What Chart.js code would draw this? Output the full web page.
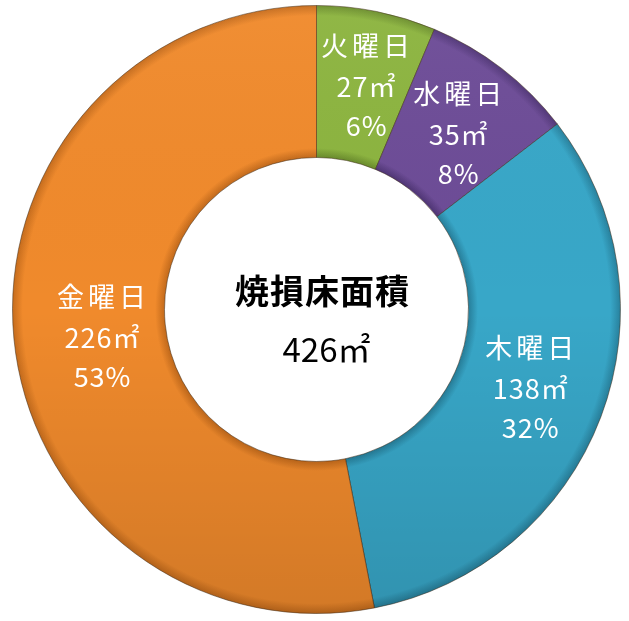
<!DOCTYPE html>
<html>
<head>
<meta charset="utf-8">
<script src="https://cdn.jsdelivr.net/npm/chart.js@4"></script>
<style>
  html, body { margin: 0; padding: 0; background: #fff; }
  #wrap { width: 629px; height: 621px; }
</style>
</head>
<body>
<div id="wrap"><canvas id="donut" width="629" height="621"></canvas></div>
<script>
const days = ["火曜日", "水曜日", "木曜日", "金曜日"];
const areas = [27, 35, 138, 226];
const percents = ["6%", "8%", "32%", "53%"];
const centerTitle = "焼損床面積";
const centerTotal = "426㎡";

// base / edge colors per slice
const baseColors = ["#8cb43f", "#6d4c97", "#38a7c8", "#f08a2c"];
const edgeColors = ["#6a8c2c", "#4f3575", "#277f9b", "#c46b1c"];
// small label nudges (px) so text sits like the original
const labelNudge = [[4, 1], [2, 6], [0, -1], [12, 6]];

const FONT = '"Noto Sans CJK JP", "Noto Sans", sans-serif';

function sliceFill(c) {
  const area = c.chart.chartArea;
  if (!area) return baseColors[c.dataIndex];
  const ctx = c.chart.ctx;
  const cx = (area.left + area.right) / 2;
  const cy = (area.top + area.bottom) / 2;
  const outerR = Math.min(area.right - area.left, area.bottom - area.top) / 2;
  const innerR = outerR * 0.5;
  const g = ctx.createRadialGradient(cx, cy, innerR, cx, cy, outerR);
  g.addColorStop(0, edgeColors[c.dataIndex]);
  g.addColorStop(0.06, baseColors[c.dataIndex]);
  g.addColorStop(0.93, baseColors[c.dataIndex]);
  g.addColorStop(1, edgeColors[c.dataIndex]);
  return g;
}

// slight darkening toward the bottom, like the original's lighting
const shadePlugin = {
  id: "shade",
  afterDatasetsDraw(chart) {
    const ctx = chart.ctx;
    const meta = chart.getDatasetMeta(0);
    const a = meta.data[0];
    ctx.save();
    ctx.beginPath();
    ctx.arc(a.x, a.y, a.outerRadius, 0, Math.PI * 2);
    ctx.arc(a.x, a.y, a.innerRadius, 0, Math.PI * 2, true);
    const g = ctx.createLinearGradient(0, a.y - a.outerRadius, 0, a.y + a.outerRadius);
    g.addColorStop(0, "rgba(255,255,255,0.04)");
    g.addColorStop(0.5, "rgba(0,0,0,0)");
    g.addColorStop(1, "rgba(0,0,0,0.12)");
    ctx.fillStyle = g;
    ctx.fill();
    ctx.restore();
  }
};

// draws slice labels and center text
const labelPlugin = {
  id: "labels",
  afterDatasetsDraw(chart) {
    const ctx = chart.ctx;
    const meta = chart.getDatasetMeta(0);
    ctx.save();
    ctx.textAlign = "center";
    ctx.textBaseline = "middle";
    meta.data.forEach((arc, i) => {
      const mid = (arc.startAngle + arc.endAngle) / 2;
      const r = (arc.innerRadius + arc.outerRadius) / 2;
      const x = arc.x + Math.cos(mid) * r + labelNudge[i][0];
      const y = arc.y + Math.sin(mid) * r + labelNudge[i][1];
      ctx.fillStyle = "#ffffff";
      ctx.font = "27px " + FONT;
      ctx.letterSpacing = "4px";
      ctx.fillText(days[i], x + 2, y - 41);
      ctx.letterSpacing = "1px";
      ctx.fillText(areas[i] + "㎡", x + 1, y);
      ctx.fillText(percents[i], x + 1, y + 39);
    });
    const a = meta.data[0];
    ctx.fillStyle = "#000000";
    ctx.font = "bold 34px " + FONT;
    ctx.letterSpacing = "1px";
    ctx.fillText(centerTitle, a.x + 6, a.y - 18);
    ctx.letterSpacing = "0px";
    ctx.font = "33px " + FONT;
    ctx.fillText(centerTotal, a.x + 10, a.y + 40);
    ctx.restore();
  }
};

new Chart("donut", {
  type: "doughnut",
  data: {
    labels: days,
    datasets: [{
      data: areas,
      backgroundColor: sliceFill,
      borderColor: "rgba(60,40,20,0.5)",
      borderWidth: 1
    }]
  },
  options: {
    responsive: false,
    animation: false,
    cutout: "50%",
    layout: { padding: { left: 12, right: 8, top: 5, bottom: 7 } },
    plugins: {
      legend: { display: false },
      tooltip: { enabled: false }
    }
  },
  plugins: [shadePlugin, labelPlugin]
});
</script>
</body>
</html>
